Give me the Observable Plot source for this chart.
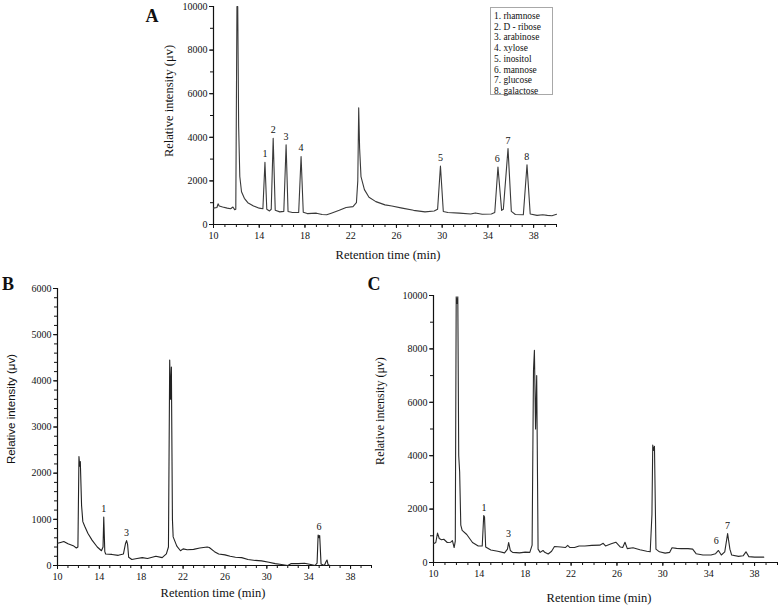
<!DOCTYPE html>
<html>
<head>
<meta charset="utf-8">
<script src="https://cdn.jsdelivr.net/npm/d3@7"></script>
<script src="https://cdn.jsdelivr.net/npm/@observablehq/plot@0.6"></script>
<style>
  html, body { margin: 0; padding: 0; background: #fff; }
  #wrap { position: relative; width: 778px; height: 609px; overflow: hidden; background: #fff; }
  .pl { position: absolute; }
  .txt { position: absolute; white-space: nowrap; color: #111; line-height: 1; }
  .rot { transform: translate(-50%, -50%) rotate(-90deg); }
  .ctr { transform: translate(-50%, -50%); }
  .serif { font-family: "Liberation Serif", "DejaVu Serif", serif; }
  .sans { font-family: "Liberation Sans", Arial, sans-serif; }
  .letter { font-family: "Liberation Serif", serif; font-weight: bold; font-size: 18px; }
  #legend { position: absolute; left: 490px; top: 7px; width: 63px; height: 88px; border: 1px solid #a8a8a8;
            font-family: "Liberation Serif", serif; font-size: 9.4px; line-height: 10.7px; padding: 3px 0 0 3px; box-sizing: border-box; color: #111; }
</style>
</head>
<body>
<div id="wrap"></div>
<script>
// ---------- Data ----------
// Panel A: standard mixture
const aTime = [10.0,10.3,10.4,10.5,10.8,11.2,11.5,11.7,11.85,11.95,12.05,12.12,12.2,12.3,12.45,12.7,13.0,13.5,14.0,14.32,14.5,14.66,14.9,15.05,15.22,15.4,15.8,16.15,16.35,16.52,16.9,17.45,17.66,17.85,18.2,19.0,19.5,19.9,20.3,21.0,21.6,22.2,22.5,22.62,22.7,22.78,22.9,23.2,23.6,24.2,25.0,25.6,26.5,27.5,28.5,29.3,29.6,29.85,30.1,30.5,31.5,32.5,32.9,33.5,34.3,34.6,34.88,35.2,35.35,35.76,36.05,36.4,37.1,37.42,37.7,38.3,38.8,39.2,39.6,40.0];
const aSignal = [750,780,950,850,800,750,720,800,680,700,10000,10000,4500,2200,1500,1200,1000,850,750,720,2850,700,620,700,3950,650,580,600,3660,600,550,550,3120,560,500,520,460,450,520,650,780,820,1000,2000,5350,3500,2200,1600,1250,1050,900,850,750,650,580,620,700,2680,600,550,520,480,530,470,480,550,2640,650,700,3480,600,460,450,2740,480,420,450,420,400,470];
const aPeakTime = [14.5,15.22,16.35,17.66,29.85,34.82,35.76,37.4];
const aPeakHeight = [2850,3950,3660,3120,2680,2640,3480,2740];
const aPeakLabel = ["1","2","3","4","5","6","7","8"];
const legendItems = ["1. rhamnose","2. D - ribose","3. arabinose","4. xylose","5. inositol","6. mannose","7. glucose","8. galactose"];

// Panel B
const bTime = [10.0,10.3,10.6,11.0,11.5,11.8,11.95,12.05,12.12,12.18,12.3,12.42,12.6,12.9,13.3,13.8,14.2,14.35,14.42,14.52,14.6,15.2,15.8,16.3,16.5,16.6,16.7,16.8,17.1,17.6,18.1,18.6,19.4,20.0,20.4,20.6,20.72,20.8,20.88,20.98,21.05,21.4,21.75,22.0,22.4,23.0,23.6,24.3,24.5,25.0,25.4,26.0,26.5,27.0,27.6,28.2,28.9,29.5,30.2,30.8,31.4,32.0,32.3,33.0,33.6,34.2,34.6,34.8,34.9,35.0,35.05,35.18,35.5,35.65,35.75,35.85,36.0,37.0];
const bSignal = [480,500,520,470,430,380,400,2360,2150,2250,1300,950,850,700,550,400,320,400,1050,300,250,240,220,250,480,540,450,180,130,150,170,150,200,170,250,400,4450,3600,4300,1000,620,420,320,360,340,350,380,400,390,300,250,230,200,180,170,130,110,100,70,40,20,0,40,40,50,20,0,50,660,600,650,30,0,80,120,20,0,0];
const bPeakTime = [14.42,16.6,34.98];
const bPeakHeight = [1050,540,660];
const bPeakLabel = ["1","3","6"];

// Panel C
const cTime = [10.0,10.2,10.35,10.5,10.7,10.9,11.2,11.5,11.65,11.8,11.9,11.98,12.05,12.12,12.2,12.28,12.38,12.5,12.9,13.4,13.9,14.25,14.38,14.45,14.55,15.0,15.6,16.2,16.45,16.55,16.7,16.9,17.5,18.0,18.4,18.6,18.72,18.8,18.9,19.0,19.12,19.3,19.55,19.7,20.0,20.3,20.55,21.1,21.5,21.7,21.9,22.3,22.7,23.2,23.8,24.5,24.8,25.0,25.5,25.9,26.3,26.5,26.7,26.9,27.4,28.0,28.6,28.9,29.05,29.12,29.2,29.27,29.4,29.7,30.2,30.6,30.8,31.2,31.6,32.2,32.6,32.9,33.5,34.2,34.6,34.85,35.1,35.4,35.65,35.85,36.0,36.6,37.0,37.25,37.5,38.0,38.8];
const cSignal = [700,750,1100,900,850,870,750,760,820,560,800,9950,9700,9950,4000,3400,1400,1200,1050,750,620,620,1760,1700,580,470,420,360,500,750,450,380,360,390,380,650,7200,7950,5000,7000,500,380,450,380,320,420,600,580,560,640,560,560,620,620,640,650,720,620,700,760,580,560,760,520,550,480,420,400,1800,4400,4200,4350,500,400,350,380,550,530,520,520,500,330,280,280,330,450,280,400,1080,500,280,230,250,400,220,200,200];
const cPeakTime = [14.4,16.55,34.65,35.65];
const cPeakHeight = [1760,750,520,1080];
const cPeakLabel = ["1","3","6","7"];

// Tick labels
const xTickLabels = [10,14,18,22,26,30,34,38];
const aYTickLabels = [0,2000,4000,6000,8000,10000];
const bYTickLabels = [0,1000,2000,3000,4000,5000,6000];
const cYTickLabels = [0,2000,4000,6000,8000,10000];

// ---------- Drawing ----------
const wrap = document.getElementById("wrap");
const plain = d => String(d);

function panel(o) {
  const trace = o.time.map((t, i) => ({t, v: o.signal[i]}));
  const peaks = o.peakTime.map((t, i) => ({t, v: o.peakHeight[i], label: o.peakLabel[i]}));
  const chart = Plot.plot({
    width: o.width, height: o.height,
    marginLeft: o.ml, marginRight: o.mr, marginTop: o.mt, marginBottom: o.mb,
    x: {domain: [10, 40]},
    y: {domain: [0, o.yMax]},
    style: {fontFamily: "Liberation Serif, serif", fontSize: "10px", color: "#111", background: "transparent", overflow: "visible"},
    marks: [
      Plot.axisX({ticks: d3.range(10, 41, 1), tickFormat: () => "", tickSize: 3, label: null, stroke: "#111"}),
      Plot.axisX({ticks: xTickLabels, tickFormat: plain, tickSize: 4, tickPadding: 3, label: null, stroke: "#111", fontSize: 10}),
      Plot.axisY({ticks: d3.range(0, o.yMax + 1, o.yMinor), tickFormat: () => "", tickSize: 3, label: null, stroke: "#111"}),
      Plot.axisY({ticks: o.yTicks, tickFormat: plain, tickSize: 4, tickPadding: 2, label: null, stroke: "#111", fontSize: 10}),
      Plot.ruleY([0], {stroke: "#111", strokeWidth: 1.2}),
      Plot.ruleX([10], {stroke: "#111", strokeWidth: 1.2}),
      Plot.line(trace, {x: "t", y: "v", stroke: o.color, strokeWidth: 1.1, curve: "linear"}),
      Plot.text(peaks, {x: "t", y: "v", text: "label", lineAnchor: "bottom", dy: -5, fontSize: 10, fill: "#111"})
    ]
  });
  chart.classList.add("pl");
  chart.style.left = o.left + "px";
  chart.style.top = o.top + "px";
  wrap.appendChild(chart);
}

panel({time: aTime, signal: aSignal, peakTime: aPeakTime, peakHeight: aPeakHeight, peakLabel: aPeakLabel,
  yMax: 10000, yMinor: 1000, yTicks: aYTickLabels, color: "#3a3a3a",
  left: 150, top: 0, width: 420, height: 262, ml: 63, mr: 14, mt: 6, mb: 38});
panel({time: bTime, signal: bSignal, peakTime: bPeakTime, peakHeight: bPeakHeight, peakLabel: bPeakLabel,
  yMax: 6000, yMinor: 200, yTicks: bYTickLabels, color: "#222",
  left: 0, top: 270, width: 385, height: 330, ml: 57, mr: 14, mt: 18, mb: 35});
panel({time: cTime, signal: cSignal, peakTime: cPeakTime, peakHeight: cPeakHeight, peakLabel: cPeakLabel,
  yMax: 10000, yMinor: 1000, yTicks: cYTickLabels, color: "#2a2a2a",
  left: 385, top: 280, width: 393, height: 320, ml: 48, mr: 1, mt: 15, mb: 38});

function addText(str, cls, x, y, size) {
  const d = document.createElement("div");
  d.className = "txt " + cls;
  d.textContent = str;
  d.style.left = x + "px";
  d.style.top = y + "px";
  if (size) d.style.fontSize = size + "px";
  wrap.appendChild(d);
}

// Panel letters
addText("A", "letter ctr", 152, 16);
addText("B", "letter ctr", 8, 284);
addText("C", "letter ctr", 374, 284);

// Axis titles
addText("Relative intensity (μv)", "serif rot", 169, 101, 12.5);
addText("Retention time (min)", "serif ctr", 388, 255, 12.5);
addText("Relative intensity (μv)", "sans rot", 12, 409, 11.5);
addText("Retention time (min)", "serif ctr", 213, 593, 12.5);
addText("Relative intensity (μv)", "serif rot", 380, 411, 12);
addText("Retention time (min)", "serif ctr", 599, 598, 12.5);

// Legend (panel A)
const lg = document.createElement("div");
lg.id = "legend";
legendItems.forEach(s => { const r = document.createElement("div"); r.textContent = s; lg.appendChild(r); });
wrap.appendChild(lg);
</script>
</body>
</html>
